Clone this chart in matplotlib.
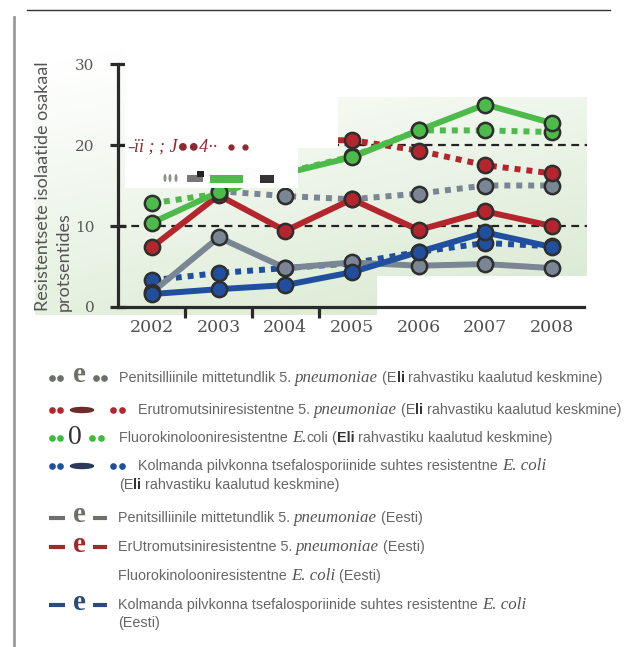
import numpy as np
import matplotlib
matplotlib.use("Agg")
import matplotlib.pyplot as plt
from matplotlib.patches import Polygon, Rectangle, Ellipse

# Resistance shares (%) by year; "eu" = EU population-weighted mean, "ee" = Estonia
years = ["2002", "2003", "2004", "2005", "2006", "2007", "2008"]
pen_eu = [np.nan, 14.3, 13.7, 13.3, 14.0, 15.0, 15.0]
ery_eu = [np.nan, 20.0, 20.5, 20.6, 19.3, 17.5, 16.5]
fq_eu = [12.8, 14.0, 16.6, 18.6, 21.8, 21.8, 21.6]
ceph_eu = [3.3, 4.2, 4.8, 5.4, 6.8, 7.9, 7.5]
pen_ee = [1.8, 8.6, 4.8, 5.5, 5.1, 5.3, 4.8]
ery_ee = [7.4, 13.8, 9.4, 13.3, 9.5, 11.8, 10.0]
fq_ee = [10.4, 14.2, 16.5, 18.5, 21.8, 25.0, 22.7]
ceph_ee = [1.6, 2.2, 2.7, 4.3, 6.8, 9.2, 7.4]

GREY = "#7a8694"
RED = "#b5252d"
GREEN = "#4dbb4a"
BLUE = "#1f4f9e"
EDGE = "#2e2e2e"

W, H = 628, 647
fig = plt.figure(figsize=(W / 100, H / 100), dpi=100)

# pixel-space layer for the shaded backdrop
bg = fig.add_axes([0, 0, 1, 1], zorder=0)
gx, gy = np.meshgrid(np.linspace(0, 1, 200), np.linspace(0, 1, 200))
t = np.clip(0.75 * gy + 0.35 * gx - 0.05, 0, 1)[..., None]
c0 = np.array([1.0, 1.0, 1.0])
c1 = np.array([0.855, 0.918, 0.825])
im = bg.imshow(c0 + (c1 - c0) * t, extent=(35, 587, 315, 50), origin="upper",
               aspect="auto", interpolation="bilinear")
shape = Polygon([(35, 50), (125, 50), (125, 188), (298, 188), (298, 148), (338, 148),
                 (338, 97), (587, 97), (587, 276), (377, 276), (377, 315), (35, 315)],
                closed=True, facecolor="none", edgecolor="none", transform=bg.transData)
bg.add_patch(shape)
im.set_clip_path(shape)
bg.plot([27, 610], [10, 10], color="#333333", lw=1)
bg.plot([14, 14], [17, 647], color="#9a9a9a", lw=2)
bg.set_xlim(0, W)
bg.set_ylim(H, 0)
bg.axis("off")

# main chart
ax = fig.add_axes([118 / W, 1 - 307 / H, 466 / W, 243 / H], zorder=1)
ax.set_facecolor("none")
x = np.arange(len(years))

for vals, c in [(pen_eu, GREY), (ery_eu, RED), (fq_eu, GREEN), (ceph_eu, BLUE)]:
    ax.plot(x, vals, color=c, lw=4.3, ls=(0, (1, 1)), marker="o", ms=11,
            mfc=c, mec=EDGE, mew=1.8, zorder=3)
for vals, c in [(pen_ee, GREY), (ery_ee, RED), (fq_ee, GREEN), (ceph_ee, BLUE)]:
    ax.plot(x, vals, color=c, lw=4.3, solid_joinstyle="round", marker="o", ms=11,
            mfc=c, mec=EDGE, mew=1.8, zorder=4)

for yv in (10, 20):
    ax.axhline(yv, xmin=0, xmax=469 / 466, color="#222222", lw=1.6,
               ls=(0, (3.5, 2.5)), clip_on=False, zorder=2)

ax.set_xlim(-0.51, 6.48)
ax.set_ylim(0, 30)
ax.set_xticks(x, years)
ax.set_xticks([0.5, 1.5, 2.5], minor=True)
ax.set_yticks([0, 10, 20, 30])
ax.tick_params(axis="x", which="major", length=0, pad=9, labelsize=12.5,
               labelcolor="#505050")
ax.tick_params(axis="x", which="minor", length=8, width=2.3, color="#2a2a2a",
               direction="out")
ax.tick_params(axis="y", length=12, width=2.3, color="#2a2a2a", direction="inout",
               pad=11, labelsize=11, labelcolor="#5a5a5a")
for lab in ax.get_xticklabels() + ax.get_yticklabels():
    lab.set_fontfamily("DejaVu Serif")
for side in ("top", "right"):
    ax.spines[side].set_visible(False)
for side in ("left", "bottom"):
    ax.spines[side].set_linewidth(2.3)
    ax.spines[side].set_color("#2a2a2a")

fig.text(43 / W, 1 - 311 / H, "Resistentsete isolaatide osakaal", rotation=90,
         ha="center", va="bottom", fontsize=13, family="Lato", color="#555555")
fig.text(64 / W, 1 - 311 / H, "protsentides", rotation=90,
         ha="center", va="bottom", fontsize=13, family="Lato", color="#555555")

# overlay layer (pixel space): blank patch with stray marks over the chart
fg = fig.add_axes([0, 0, 1, 1], zorder=3)
fg.set_facecolor("none")
fg.add_patch(Rectangle((125, 58), 173, 130, facecolor="white", edgecolor="none"))
fg.add_patch(Rectangle((297, 58), 41, 90, facecolor="white", edgecolor="none"))
fg.text(127, 147, "–", color="#555555", fontsize=11, va="center")
fg.text(134, 151, "ïi ; ; J●●4··", color="#8c2a2e", fontsize=13, style="italic",
        family=["Liberation Serif", "DejaVu Sans"], va="baseline")
fg.plot([231, 245], [147, 147], "o", color="#8c2a2e", ms=3.5)
for ex in (165, 170, 176):
    fg.add_patch(Ellipse((ex, 178), 3, 8, facecolor="#8c928a", edgecolor="none"))
fg.add_patch(Rectangle((187, 175), 16, 7, facecolor="#777777", edgecolor="none"))
fg.add_patch(Rectangle((197, 171), 7, 6, facecolor="#222222", edgecolor="none"))
fg.add_patch(Rectangle((210, 175), 33, 8, facecolor=GREEN, edgecolor="none"))
fg.add_patch(Rectangle((260, 175), 14, 8, facecolor="#333333", edgecolor="none"))

# legend symbols
def dots(xs, y, c):
    fg.plot(xs, [y] * len(xs), "o", color=c, ms=4.8, mew=0)

def big(xc, y, s, c, weight="bold", size=21):
    fg.text(xc, y, s, color=c, fontsize=size, weight=weight, family="Liberation Serif",
            ha="center", va="center")

def dash(x0, x1, y, c):
    fg.plot([x0, x1], [y, y], color=c, lw=3, solid_capstyle="butt")

dots([52, 60], 378, "#6d7068"); big(79, 374, "e", "#6d7068"); dots([96, 104], 378, "#6d7068")
dots([52, 60], 410, RED); fg.add_patch(Ellipse((82, 410), 23, 5, color="#6e2b2d")); dots([113, 122], 410, RED)
dots([52, 60], 438, "#3dbb3d"); big(75, 437, "0", "#333333", "normal", 20); dots([92, 101], 438, "#3dbb3d")
dots([52, 60], 466, BLUE); fg.add_patch(Ellipse((82, 466), 23, 5, color="#2b3a5c")); dots([113, 122], 466, BLUE)
for yy, c in [(518, "#6d7068"), (547, "#9e2a2b"), (605, "#2d4a7c")]:
    dash(49, 65, yy, c)
    big(79, yy - 3, "e", c)
    dash(93, 107, yy, c)

fg.set_xlim(0, W)
fg.set_ylim(H, 0)
fg.axis("off")

# legend text, built from styled runs on one baseline
STYLES = {
    "n": dict(family="Liberation Sans", fontsize=10.4, color="#666666"),
    "b": dict(family="Liberation Sans", fontsize=10.4, color="#333333", weight="bold"),
    "i": dict(family="Liberation Serif", fontsize=12.2, color="#555555", style="italic"),
}
renderer = fig.canvas.get_renderer()

def run_line(x0, y, parts):
    xp = x0
    for s, k in parts:
        txt = fg.text(xp, y, s, va="baseline", ha="left", **STYLES[k])
        bb = txt.get_window_extent(renderer)
        xp += bb.width

EU = [(" (E", "n"), ("li", "b"), (" rahvastiku kaalutud keskmine)", "n")]
run_line(119, 382, [("Penitsilliinile mittetundlik 5. ", "n"), ("pneumoniae", "i")] + EU)
run_line(138, 414, [("Erutromutsiniresistentne 5. ", "n"), ("pneumoniae", "i")] + EU)
run_line(119, 442, [("Fluorokinolooniresistentne ", "n"), ("E.", "i"), ("coli", "n"),
                    (" (", "n"), ("Eli", "b"), (" rahvastiku kaalutud keskmine)", "n")])
run_line(138, 470, [("Kolmanda pilvkonna tsefalosporiinide suhtes resistentne ", "n"),
                    ("E. coli", "i")])
run_line(119, 489, [("(E", "n"), ("li", "b"), (" rahvastiku kaalutud keskmine)", "n")])
run_line(118, 522, [("Penitsilliinile mittetundlik 5. ", "n"), ("pneumoniae", "i"),
                    (" (Eesti)", "n")])
run_line(118, 551, [("ErUtromutsiniresistentne 5. ", "n"), ("pneumoniae", "i"),
                    (" (Eesti)", "n")])
run_line(118, 580, [("Fluorokinolooniresistentne ", "n"), ("E. coli", "i"), (" (Eesti)", "n")])
run_line(118, 609, [("Kolmanda pilvkonna tsefalosporiinide suhtes resistentne ", "n"),
                    ("E. coli", "i")])
run_line(118, 627, [("(Eesti)", "n")])

fig.savefig("out.png", dpi=100)
